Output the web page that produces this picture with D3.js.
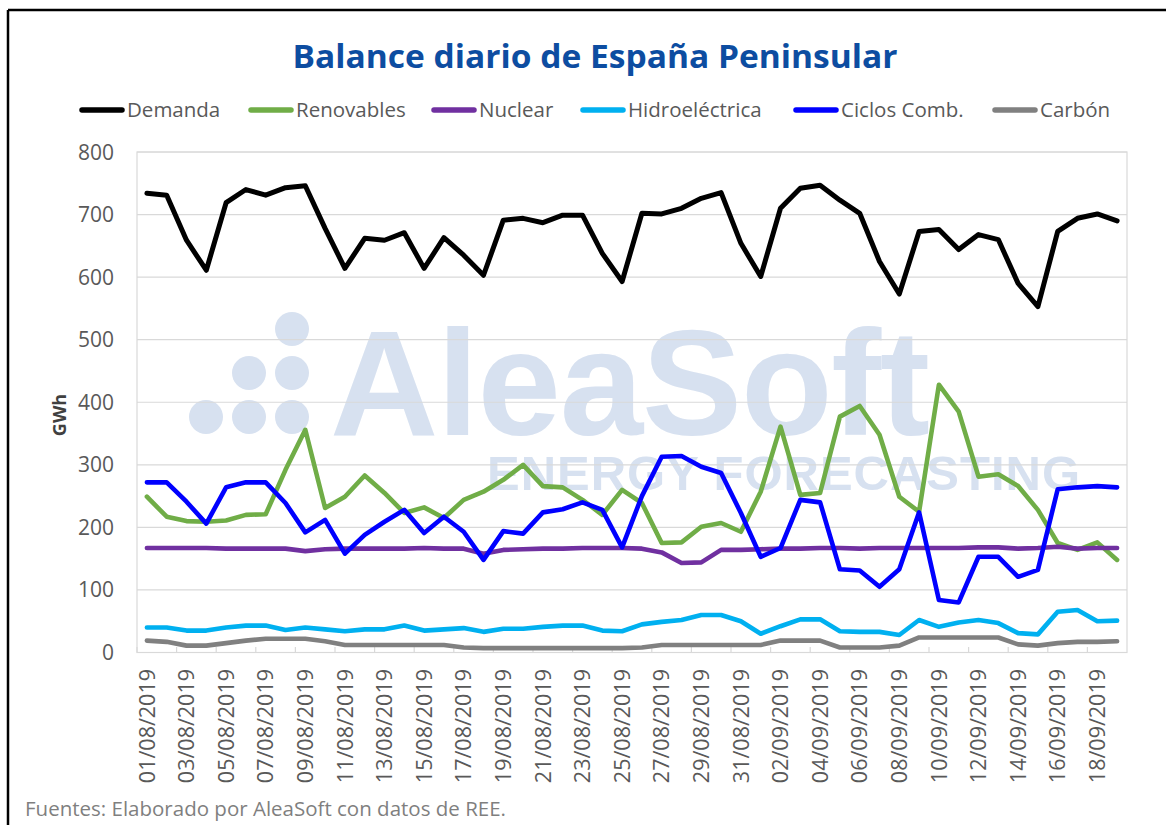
<!DOCTYPE html>
<html><head><meta charset="utf-8">
<script src="https://cdn.jsdelivr.net/npm/d3@7"></script>
<style>
html,body{margin:0;padding:0;background:#fff;}
svg{display:block;}
text{font-family:"Open Sans",sans-serif;}
</style></head>
<body>
<svg id="chart" width="1166" height="825"></svg>
<script>
const dates = ["01/08/2019","02/08/2019","03/08/2019","04/08/2019","05/08/2019","06/08/2019","07/08/2019","08/08/2019","09/08/2019","10/08/2019",
"11/08/2019","12/08/2019","13/08/2019","14/08/2019","15/08/2019","16/08/2019","17/08/2019","18/08/2019","19/08/2019","20/08/2019",
"21/08/2019","22/08/2019","23/08/2019","24/08/2019","25/08/2019","26/08/2019","27/08/2019","28/08/2019","29/08/2019","30/08/2019",
"31/08/2019","01/09/2019","02/09/2019","03/09/2019","04/09/2019","05/09/2019","06/09/2019","07/09/2019","08/09/2019","09/09/2019",
"10/09/2019","11/09/2019","12/09/2019","13/09/2019","14/09/2019","15/09/2019","16/09/2019","17/09/2019","18/09/2019","19/09/2019"];

const demanda = [734,731,659,611,719,740,731,743,746,678,614,662,659,671,614,663,635,603,691,694,687,699,699,638,593,702,701,710,726,735,654,601,710,742,747,723,702,625,573,673,676,644,668,660,590,553,673,694,701,690];
const renovables = [249,217,210,209,211,220,221,292,356,231,249,283,255,223,232,215,244,257,276,300,266,264,244,220,260,239,175,176,201,207,193,257,361,252,255,377,394,348,249,225,428,385,281,285,266,228,175,164,176,148];
const nuclear = [167,167,167,167,166,166,166,166,162,165,166,166,166,166,167,166,166,158,164,165,166,166,167,167,167,166,160,143,144,164,164,165,166,166,167,167,166,167,167,167,167,167,168,168,166,167,169,166,167,167];
const hidroelectrica = [40,40,35,35,40,43,43,36,40,37,34,37,37,43,35,37,39,33,38,38,41,43,43,35,34,45,49,52,60,60,50,30,42,53,53,34,33,33,28,52,41,48,52,47,31,29,65,68,50,51];
const ciclos = [272,272,241,206,264,272,272,239,192,212,158,188,209,228,191,217,193,148,194,190,224,229,240,228,168,250,313,314,297,287,223,153,167,244,240,133,131,105,133,224,84,80,153,153,121,132,261,264,266,264];
const carbon = [19,17,11,11,15,19,22,22,22,18,12,12,12,12,12,12,8,7,7,7,7,7,7,7,7,8,12,12,12,12,12,12,19,19,19,8,8,8,11,24,24,24,24,24,13,11,15,17,17,18];

const seriesNames = ["Demanda","Renovables","Nuclear","Hidroeléctrica","Ciclos Comb.","Carbón"];
const seriesColors = ["#000000","#70AD47","#7030A0","#00B0F0","#0000FF","#808080"];
const yTicks = [0,100,200,300,400,500,600,700,800];

const seriesData = [demanda, renovables, nuclear, hidroelectrica, ciclos, carbon];

const svg = d3.select("#chart");
const L = 137, R = 1127, T = 152, B = 652.5;

// outer frame
svg.append("line").attr("x1",8).attr("x2",1166).attr("y1",10).attr("y2",10).attr("stroke","#000").attr("stroke-width",2.5);
svg.append("line").attr("x1",8).attr("x2",8).attr("y1",10).attr("y2",825).attr("stroke","#000").attr("stroke-width",2.5);

// title
svg.append("text").attr("x",595).attr("y",68).attr("text-anchor","middle")
  .style("font-size","32px").style("font-weight","700").attr("fill","#0D4DA1")
  .attr("textLength",605).attr("lengthAdjust","spacingAndGlyphs")
  .text("Balance diario de España Peninsular");

// watermark
const wm = svg.append("g").attr("fill","#D7E1F0");
[[292,329],[249,373],[292,373],[206,417],[249,417],[292,417]].forEach(c=>{
  wm.append("circle").attr("cx",c[0]).attr("cy",c[1]).attr("r",17);
});
wm.append("text").attr("x",330).attr("y",435).style("font-family","'Liberation Sans',Arial,sans-serif")
  .style("font-weight","700").style("font-size","150px").attr("textLength",600).text("AleaSoft");
wm.append("text").attr("x",487).attr("y",490).style("font-family","'Liberation Sans',Arial,sans-serif")
  .style("font-weight","700").style("font-size","49px").attr("textLength",593).text("ENERGY FORECASTING");

const x = d3.scaleBand().domain(dates).range([L,R]).padding(0);
const y = d3.scaleLinear().domain([0,800]).range([B,T]);

// gridlines
svg.append("g").selectAll("line").data(yTicks).join("line")
  .attr("x1",L).attr("x2",R).attr("y1",d=>y(d)).attr("y2",d=>y(d))
  .attr("stroke","#D9D9D9").attr("stroke-width",1.2);
// plot border
svg.append("rect").attr("x",L).attr("y",T).attr("width",R-L).attr("height",B-T)
  .attr("fill","none").attr("stroke","#D9D9D9").attr("stroke-width",1.2);

// x ticks at every 2nd boundary
const bw = x.bandwidth();
svg.append("g").selectAll("line").data(dates.filter((d,i)=>i%2===0)).join("line")
  .attr("x1",d=>x(d)).attr("x2",d=>x(d)).attr("y1",B-5.5).attr("y2",B)
  .attr("stroke","#D9D9D9").attr("stroke-width",1.2);

// y labels
svg.append("g").selectAll("text").data(yTicks).join("text")
  .attr("x",114).attr("y",d=>y(d)).attr("dy","0.36em").attr("text-anchor","end")
  .style("font-size","21px").attr("fill","#595959").text(d=>d);

// x labels
svg.append("g").selectAll("text").data(dates.filter((d,i)=>i%2===0)).join("text")
  .attr("transform",d=>`translate(${x(d)+bw/2},669) rotate(-90)`)
  .attr("dy","0.36em").attr("text-anchor","end")
  .style("font-size","21.5px").attr("fill","#595959").text(d=>d);

// y axis title
svg.append("text").attr("transform","translate(60,415) rotate(-90)").attr("text-anchor","middle")
  .attr("dy","0.35em").style("font-size","18px").style("font-weight","700").attr("fill","#404040").text("GWh");

// lines
const line = d3.line().x((d,i)=>x(dates[i])+bw/2).y(d=>y(d));
seriesData.forEach((s,k)=>{
  svg.append("path").datum(s).attr("d",line).attr("fill","none")
    .attr("stroke",seriesColors[k]).attr("stroke-width",k===0?5:4.6)
    .attr("stroke-linejoin","round").attr("stroke-linecap","round");
});

// legend
const legX = [80,249,432,581,794,993];
const leg = svg.append("g");
seriesNames.forEach((n,k)=>{
  leg.append("line").attr("x1",legX[k]+2).attr("x2",legX[k]+42).attr("y1",110).attr("y2",110)
    .attr("stroke",seriesColors[k]).attr("stroke-width",5.5).attr("stroke-linecap","round");
  leg.append("text").attr("x",legX[k]+47).attr("y",110).attr("dy","0.35em")
    .style("font-size","20.5px").attr("fill","#595959").text(n);
});

// footer
svg.append("text").attr("x",25).attr("y",809).attr("dy","0.35em").style("font-size","20.5px")
  .attr("fill","#7F7F7F").text("Fuentes: Elaborado por AleaSoft con datos de REE.");
</script>
</body></html>
